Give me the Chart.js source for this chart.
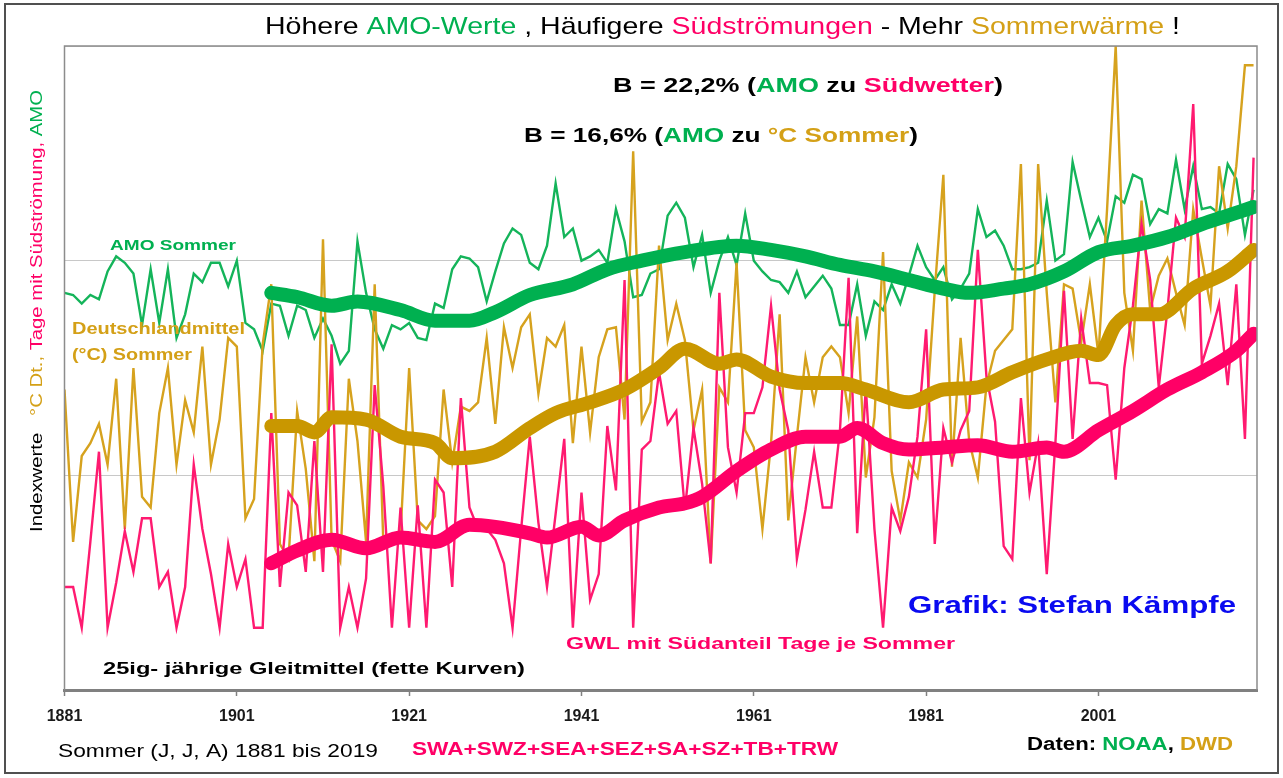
<!DOCTYPE html>
<html>
<head>
<meta charset="utf-8">
<script src="https://cdn.jsdelivr.net/npm/chart.js@4.4.1/dist/chart.umd.min.js"></script>
<style>
  html, body { margin: 0; padding: 0; background: #fff; }
  #wrap { width: 1283px; height: 778px; }
</style>
</head>
<body>
<div id="wrap"><canvas id="chart" width="1283" height="778"></canvas></div>
<script>
// Sommer (J, J, A) 1881 bis 2019, Indexwerte
var firstYear = 1881;
var lastYear = 2019;
var tickYears = [1881, 1901, 1921, 1941, 1961, 1981, 2001];

// AMO Sommer (thin green)
var amoSommer = [
  18.5, 18.4, 18.0, 18.4, 18.2, 19.5, 20.2, 19.9, 19.4, 17.0,
  19.6, 17.1, 19.6, 16.4, 17.5, 19.4, 19.0, 19.9, 19.9, 18.8,
  20.0, 17.1, 16.8, 15.8, 18.0, 17.9, 16.5, 17.9, 17.7, 16.4,
  17.3, 16.5, 15.2, 15.8, 20.9, 18.5, 16.8, 15.9, 17.0, 16.8,
  17.1, 16.4, 16.3, 18.0, 17.8, 19.6, 20.2, 20.1, 19.7, 18.1,
  19.5, 20.8, 21.5, 21.2, 19.9, 19.6, 20.7, 23.6, 21.1, 21.5,
  20.0, 20.2, 20.5, 19.9, 22.4, 20.9, 18.3, 18.4, 19.4, 19.6,
  22.1, 22.7, 22.0, 19.7, 21.2, 18.5, 20.0, 21.1, 19.8, 22.2,
  20.0, 19.5, 19.1, 19.0, 18.5, 19.5, 18.3, 18.8, 19.3, 18.7,
  17.0, 17.0, 18.9, 16.5, 18.1, 17.7, 18.9, 18.0, 19.3, 20.7,
  19.7, 19.1, 19.7, 18.2, 18.7, 19.4, 22.4, 21.1, 21.4, 20.7,
  19.6, 19.6, 19.7, 19.9, 22.8, 20.0, 20.3, 24.6, 22.8, 21.1,
  22.0, 20.9, 23.0, 22.7, 24.0, 23.8, 21.7, 22.4, 22.2, 24.7,
  22.4, 24.4, 22.4, 22.5, 22.2, 24.5, 23.8, 21.2, 23.3
];

// Deutschlandmittel (°C) Sommer (thin gold)
var tempSommer = [
  14.0, 6.9, 10.9, 11.5, 12.4, 10.5, 14.5, 7.5, 15.0, 9.0,
  8.5, 12.9, 15.0, 10.5, 13.5, 12.0, 16.0, 10.5, 12.6, 16.4,
  16.0, 8.0, 8.9, 16.1, 18.9, 6.8, 6.1, 13.0, 10.3, 6.0,
  21.0, 7.0, 6.0, 14.5, 11.6, 6.9, 18.9, 6.9, 6.8, 7.3,
  15.0, 7.9, 7.5, 8.1, 14.0, 10.6, 13.2, 13.0, 13.4, 16.4,
  12.4, 16.9, 15.0, 16.9, 17.5, 13.8, 16.4, 16.0, 17.0, 11.5,
  16.0, 12.0, 15.5, 16.8, 16.9, 12.6, 25.1, 12.5, 13.4, 20.7,
  16.3, 18.0, 16.3, 12.1, 14.0, 5.9, 14.1, 13.4, 19.9, 12.1,
  11.3, 7.5, 11.5, 17.5, 7.9, 11.8, 15.5, 13.4, 15.5, 16.0,
  15.5, 12.9, 17.4, 9.9, 12.7, 20.4, 10.2, 7.9, 10.6, 9.9,
  12.6, 18.6, 24.0, 10.4, 16.4, 11.6, 9.9, 14.2, 15.8, 16.3,
  16.8, 24.5, 10.7, 24.5, 18.5, 13.4, 18.9, 18.7, 16.2, 18.9,
  15.6, 22.4, 30.0, 18.5, 15.8, 22.8, 17.7, 19.3, 20.1, 18.5,
  17.0, 22.4, 20.1, 17.9, 24.4, 21.5, 24.4, 29.1, 29.1
];

// GWL mit Suedanteil, Tage je Sommer (thin pink)
var suedTage = [
  4.8, 4.8, 2.9, 6.9, 11.1, 2.9, 5.0, 7.4, 5.5, 8.0,
  8.0, 4.8, 5.5, 2.9, 4.8, 10.5, 7.5, 5.4, 2.9, 6.8,
  4.8, 6.1, 2.9, 2.9, 12.9, 4.8, 9.2, 8.6, 5.5, 11.6,
  5.5, 16.1, 2.9, 4.8, 2.9, 5.2, 14.2, 9.5, 2.9, 8.5,
  2.9, 8.6, 2.9, 9.8, 9.2, 4.8, 13.6, 8.5, 7.5, 7.5,
  7.0, 5.9, 2.9, 7.5, 11.8, 7.8, 4.8, 8.2, 11.7, 2.9,
  9.2, 4.2, 5.4, 12.3, 9.3, 19.1, 2.9, 11.2, 11.6, 14.8,
  12.4, 13.0, 8.4, 12.2, 9.6, 5.9, 18.5, 11.3, 9.2, 12.9,
  12.9, 14.1, 17.9, 14.0, 12.1, 6.1, 8.4, 11.1, 8.5, 8.5,
  12.1, 19.2, 7.3, 14.1, 7.5, 2.9, 8.5, 7.4, 9.0, 11.8,
  16.8, 6.8, 12.2, 10.6, 12.1, 13.0, 20.5, 14.6, 12.5, 6.7,
  6.1, 13.6, 9.2, 11.5, 5.4, 11.5, 18.6, 11.7, 17.3, 14.3,
  14.3, 14.2, 9.8, 15.0, 17.9, 21.7, 19.1, 14.1, 17.7, 22.0,
  21.1, 27.3, 15.2, 16.5, 18.0, 14.2, 18.9, 11.7, 24.8
];

// 25ig- jaehrige Gleitmittel (fette Kurven)
var maGreenYears = [1905, 1908, 1912, 1915, 1920, 1924, 1928, 1931, 1935, 1940, 1944, 1948, 1953, 1959, 1963,
  1967, 1971, 1975, 1979, 1983, 1986, 1990, 1993, 1997, 2001, 2005, 2009, 2013, 2016, 2019];
var maGreen = [18.5, 18.3, 17.9, 18.1, 17.7, 17.2, 17.2, 17.6, 18.4, 18.9, 19.6, 20.0, 20.4, 20.7, 20.5,
  20.2, 19.8, 19.5, 19.1, 18.7, 18.5, 18.7, 18.9, 19.5, 20.4, 20.7, 21.1, 21.7, 22.1, 22.5];

var maGoldYears = [1905, 1908, 1910, 1912, 1916, 1920, 1924, 1926, 1931, 1935, 1938, 1942, 1946, 1950, 1953,
  1957, 1959, 1963, 1967, 1971, 1974, 1979, 1983, 1987, 1991, 1995, 1999, 2001, 2003, 2005, 2008, 2012, 2016, 2019];
var maGold = [12.3, 12.3, 12.0, 12.7, 12.6, 11.8, 11.5, 10.8, 11.1, 12.2, 12.9, 13.4, 14.0, 15.0, 15.9,
  15.2, 15.4, 14.6, 14.3, 14.3, 14.0, 13.4, 14.0, 14.1, 14.8, 15.4, 15.8, 15.6, 17.0, 17.5, 17.5, 18.7, 19.5, 20.5];

var maPinkYears = [1905, 1908, 1912, 1916, 1920, 1924, 1928, 1931, 1935, 1937, 1941, 1943, 1946, 1950, 1953,
  1955, 1959, 1963, 1967, 1971, 1973, 1976, 1979, 1983, 1987, 1991, 1995, 1997, 2001, 2005, 2009, 2013, 2017, 2019];
var maPink = [5.9, 6.5, 7.0, 6.6, 7.1, 6.9, 7.7, 7.6, 7.3, 7.1, 7.6, 7.2, 7.9, 8.5, 8.7,
  9.0, 10.2, 11.2, 11.8, 11.8, 12.2, 11.5, 11.2, 11.3, 11.4, 11.1, 11.3, 11.1, 12.1, 13.0, 14.0, 14.8, 15.8, 16.6];

var GREEN = '#00b050';
var PINK = '#ff0066';
var GOLD_TXT = '#d4a017';
var BLUE = '#0a0af0';

function yearPoints(years, values) {
  return values.map(function (v, i) { return { x: years[i], y: v }; });
}
var allYears = [];
for (var y = firstYear; y <= lastYear; y++) allYears.push(y);

function thin(label, values, color, order) {
  return {
    label: label, data: yearPoints(allYears, values), borderColor: color,
    borderWidth: 2.4, pointRadius: 0, tension: 0, order: order
  };
}
function thick(label, years, values, color, order) {
  return {
    label: label, data: yearPoints(years, values), borderColor: color,
    borderWidth: 14, pointRadius: 0, cubicInterpolationMode: 'monotone',
    borderCapStyle: 'round', borderJoinStyle: 'round', order: order
  };
}

// draws a run of coloured text pieces, squeezed to a given width
function drawRich(ctx, parts, x, y, font, width) {
  ctx.save();
  ctx.font = font;
  var total = 0;
  parts.forEach(function (p) { total += ctx.measureText(p[0]).width; });
  ctx.translate(x, y);
  ctx.scale(width ? width / total : 1, 1);
  ctx.textBaseline = 'middle';
  var cx = 0;
  parts.forEach(function (p) {
    ctx.fillStyle = p[1];
    ctx.fillText(p[0], cx, 0);
    cx += ctx.measureText(p[0]).width;
  });
  ctx.restore();
}

var FONT = '"Liberation Sans", Arial, sans-serif';

var decor = {
  id: 'decor',
  beforeDraw: function (chart) {
    var ctx = chart.ctx;
    ctx.save();
    ctx.fillStyle = '#fff';
    ctx.fillRect(0, 0, chart.width, chart.height);
    ctx.restore();
  },
  afterDraw: function (chart) {
    var ctx = chart.ctx, a = chart.chartArea;
    ctx.save();
    ctx.strokeStyle = '#8c8c8c';
    ctx.lineWidth = 1.5;
    ctx.beginPath();
    ctx.moveTo(a.left, a.bottom);
    ctx.lineTo(a.left, a.top);
    ctx.lineTo(a.right, a.top);
    ctx.lineTo(a.right, a.bottom);
    ctx.stroke();
    ctx.strokeStyle = '#505050';
    ctx.lineWidth = 2;
    ctx.strokeRect(5, 4, 1273, 769);
    ctx.restore();

    var K = '#000';
    drawRich(ctx, [['Höhere ', K], ['AMO-Werte', GREEN], [' , Häufigere ', K], ['Südströmungen', PINK],
      [' - Mehr ', K], ['Sommerwärme', GOLD_TXT], [' !', K]], 265, 27, '24px ' + FONT, 915);
    drawRich(ctx, [['B = 22,2% (', K], ['AMO', GREEN], [' zu ', K], ['Südwetter', PINK], [')', K]],
      613, 86, 'bold 20px ' + FONT, 390);
    drawRich(ctx, [['B = 16,6% (', K], ['AMO', GREEN], [' zu ', K], ['°C Sommer', GOLD_TXT], [')', K]],
      524, 136, 'bold 20px ' + FONT, 394);
    drawRich(ctx, [['AMO Sommer', GREEN]], 110, 246, 'bold 15px ' + FONT, 126);
    drawRich(ctx, [['Deutschlandmittel', GOLD_TXT]], 72, 330, 'bold 16px ' + FONT, 173);
    drawRich(ctx, [['(°C) Sommer', GOLD_TXT]], 72, 356, 'bold 16px ' + FONT, 120);
    drawRich(ctx, [['Grafik: Stefan Kämpfe', BLUE]], 908, 607, 'bold 23px ' + FONT, 328);
    drawRich(ctx, [['GWL mit Südanteil Tage je Sommer', PINK]], 566, 644, 'bold 17px ' + FONT, 389);
    drawRich(ctx, [['25ig- jährige Gleitmittel (fette Kurven)', K]], 103, 669, 'bold 17px ' + FONT, 422);
    drawRich(ctx, [['Sommer (J, J, A) 1881 bis 2019', K]], 58, 752, '19px ' + FONT, 320);
    drawRich(ctx, [['SWA+SWZ+SEA+SEZ+SA+SZ+TB+TRW', PINK]], 412, 750, 'bold 19px ' + FONT, 426);
    drawRich(ctx, [['Daten: ', K], ['NOAA', GREEN], [', ', K], ['DWD', GOLD_TXT]], 1027, 745, 'bold 18px ' + FONT, 206);

    // rotated y-axis title
    ctx.save();
    ctx.translate(38, 532);
    ctx.rotate(-Math.PI / 2);
    drawRich(ctx, [['Indexwerte', K], ['   °C Dt.,', GOLD_TXT], [' Tage mit Südströmung,', PINK], [' AMO', GREEN]],
      0, 0, '16px ' + FONT, 442);
    ctx.restore();
  }
};

new Chart(document.getElementById('chart'), {
  type: 'line',
  data: {
    datasets: [
      thick('Gleitmittel Südwetter', maPinkYears, maPink, PINK, 1),
      thick('Gleitmittel °C', maGoldYears, maGold, '#c99700', 2),
      thick('Gleitmittel AMO', maGreenYears, maGreen, GREEN, 3),
      thin('GWL mit Südanteil Tage je Sommer', suedTage, '#ff1a70', 4),
      thin('Deutschlandmittel (°C) Sommer', tempSommer, '#d6a21e', 5),
      thin('AMO Sommer', amoSommer, '#14b45a', 6)
    ]
  },
  options: {
    responsive: false,
    animation: false,
    events: [],
    layout: { padding: { left: 64.5, top: 46, right: 26, bottom: 48 } },
    plugins: { legend: { display: false }, tooltip: { enabled: false } },
    scales: {
      x: {
        type: 'linear',
        min: firstYear,
        max: 2019.4,
        afterBuildTicks: function (scale) {
          scale.ticks = tickYears.map(function (v) { return { value: v }; });
        },
        afterFit: function (scale) { scale.height = 40; },
        ticks: {
          autoSkip: false, maxRotation: 0, padding: 11, color: '#1a1a1a',
          font: { family: FONT, size: 16, weight: 'bold' },
          callback: function (v) { return String(v); }
        },
        grid: { drawOnChartArea: false, drawTicks: true, tickLength: 6, tickColor: '#808080', tickWidth: 1.5 },
        border: { display: true, color: '#808080', width: 3 }
      },
      y: {
        min: 0,
        max: 30,
        afterFit: function (scale) { scale.width = 0; },
        ticks: { display: false, stepSize: 10 },
        grid: { color: '#c8c8c8', lineWidth: 1, drawTicks: false },
        border: { display: false }
      }
    }
  },
  plugins: [decor]
});
</script>
</body>
</html>
